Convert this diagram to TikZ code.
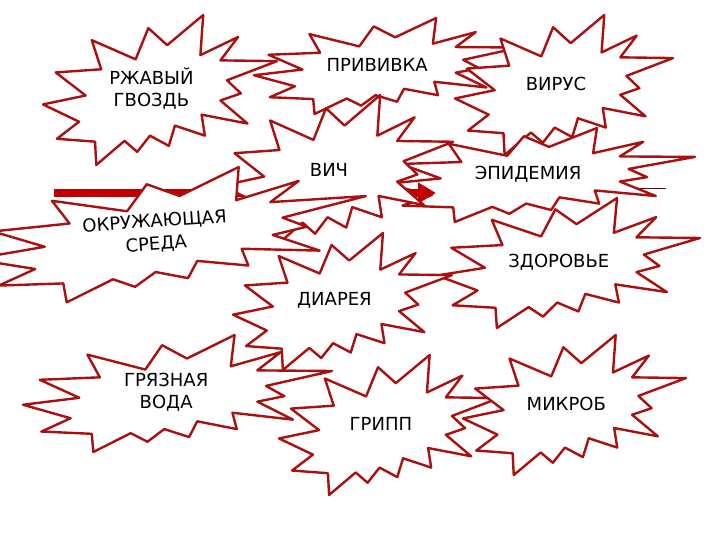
\documentclass[tikz,border=0pt]{standalone}
\usepackage{fontspec}
\setmainfont{DejaVu Sans}
\usepackage{tikz}
\usetikzlibrary{arrows.meta}
\definecolor{burstred}{RGB}{170,16,16}
\definecolor{arrowred}{RGB}{192,0,0}
\tikzset{burst/.style={draw=burstred, line width=2.4pt, fill=white, line join=round},
  burstlabel/.style={align=center, inner sep=0pt, font=\fontsize{18}{21.6}\selectfont},
  bigarrow/.style={draw=arrowred, line width=8pt, -{Triangle[length=18pt,width=20pt]}}}
% explosion outline in a 21.6 x 21.6 box
\newcommand{\boompath}{(11.462,4.342) -- (14.79,0) -- (14.525,5.777) -- (18.007,3.172) -- (16.38,6.532) -- (21.6,6.645) -- (16.985,9.402) -- (18.27,11.29) -- (16.38,12.31) -- (18.877,15.632) -- (14.64,14.35) -- (14.942,17.37) -- (12.18,15.935) -- (11.612,18.842) -- (9.872,17.37) -- (8.7,19.712) -- (7.527,18.125) -- (4.917,21.6) -- (4.805,18.24) -- (1.285,17.825) -- (3.33,15.37) -- (0,12.877) -- (3.935,11.592) -- (1.172,8.27) -- (5.372,7.817) -- (4.502,3.625) -- (8.55,6.382) -- (9.722,1.887) -- cycle}
% [rotation] left, top, width, height, name, text
\newcommand{\boom}[7][0]{%
  \begin{scope}[rotate around={#1:({#2+#4/2},{#3+#5/2})}, shift={(#2,#3)}, xscale=#4/21.6, yscale=#5/21.6]
    \path[burst] \boompath;
    \node[burstlabel, rotate=#1] (#6) at (10.006,10.6) {#7};
  \end{scope}}

\begin{document}
\begin{tikzpicture}[x=1pt,y=-1pt]
  \useasboundingbox (0,0) rectangle (720,540);
  \clip (0,0) rectangle (720,540);
  \coordinate (lineA) at (560,188);
  \coordinate (lineB) at (666,188);
  \draw[burstred!60!black, line width=0.8pt] (lineA) -- (lineB);
  \boom{254}{18}{266}{96}{privivka}{ПРИВИВКА}
  \boom{43}{15}{234}{150}{gvozd}{РЖАВЫЙ\\ГВОЗДЬ}
  \boom{455}{15}{218}{140}{virus}{ВИРУС}
  \boom{384}{128}{311}{94}{epidemia}{ЭПИДЕМИЯ}
  \boom{437}{198}{263}{130}{zdorovie}{ЗДОРОВЬЕ}
  % the arrow runs behind the upper bursts
  \coordinate (tail) at (54,193);
  \coordinate (head) at (436,193);
  \draw[bigarrow] (tail) -- (head);
  \boom{222}{95}{231}{152}{vich}{ВИЧ}
  \boom{233}{233}{219}{137}{diarea}{ДИАРЕЯ}
  \boom[4]{-28}{172}{396}{123}{sreda}{ОКРУЖАЮЩАЯ\\[1pt]СРЕДА}
  \boom{23}{335}{309}{117}{voda}{ГРЯЗНАЯ\\ВОДА}
  \boom{279}{355}{220}{140}{gripp}{ГРИПП}
  \boom{463}{335}{223}{140}{mikrob}{МИКРОБ}
\end{tikzpicture}
\end{document}
